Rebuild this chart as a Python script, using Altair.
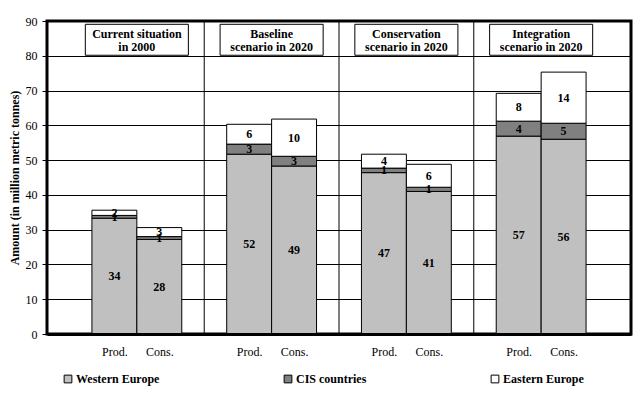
import altair as alt
import pandas as pd

# ---- data ----
scenarios = ["Current  situation\nin 2000", "Baseline\nscenario in 2020",
             "Conservation\nscenario in 2020", "Integration\nscenario in 2020"]
series = ["Western Europe", "CIS countries", "Eastern Europe"]
colors = ["#C0C0C0", "#808080", "#FFFFFF"]
kinds = ["Prod.", "Cons."]

prod_we = [33.3, 51.7, 46.4, 56.9]
prod_cis = [0.8, 2.9, 1.3, 4.3]
prod_ee = [1.5, 5.7, 4.0, 8.0]
cons_we = [27.2, 48.3, 41.0, 56.0]
cons_cis = [0.8, 2.8, 1.2, 4.6]
cons_ee = [2.6, 10.7, 6.6, 14.7]

prod_we_lbl = ["34", "52", "47", "57"]
prod_cis_lbl = ["1", "3", "1", "4"]
prod_ee_lbl = ["2", "6", "4", "8"]
cons_we_lbl = ["28", "49", "41", "56"]
cons_cis_lbl = ["1", "3", "1", "5"]
cons_ee_lbl = ["3", "10", "6", "14"]

y_ticks = list(range(0, 91, 10))

# ---- build tables ----
FONT = "Liberation Serif"
SLOTS_PER_GROUP = 3  # Prod, Cons, gap

values = {
    "Prod.": [prod_we, prod_cis, prod_ee],
    "Cons.": [cons_we, cons_cis, cons_ee],
}
labels = {
    "Prod.": [prod_we_lbl, prod_cis_lbl, prod_ee_lbl],
    "Cons.": [cons_we_lbl, cons_cis_lbl, cons_ee_lbl],
}

rows = []
for g, scen in enumerate(scenarios):
    for k, kind in enumerate(kinds):
        slot = g * SLOTS_PER_GROUP + k
        for s, name in enumerate(series):
            rows.append({
                "slot": slot, "x0": slot - 0.5, "x1": slot + 0.5,
                "kind": kind, "series": name, "order": s,
                "value": values[kind][s][g], "label": labels[kind][s][g],
            })
bars_df = pd.DataFrame(rows)

sep_df = pd.DataFrame({"slot": [g * SLOTS_PER_GROUP + 2 for g in range(len(scenarios) - 1)]})

BOX_HALF = 1.147  # half box width in slot units
box_df = pd.DataFrame({
    "center": [g * SLOTS_PER_GROUP + 0.5 for g in range(len(scenarios))],
    "title": [t.split("\n") for t in scenarios],
})
box_df["bx0"] = box_df["center"] - BOX_HALF
box_df["bx1"] = box_df["center"] + BOX_HALF
box_df["by0"] = 80.15
box_df["by1"] = 89.05
box_df["ty"] = 86.3

tick_slots = sorted(bars_df["slot"].unique().tolist())

xscale = alt.Scale(domain=[-1.5, 11.5], nice=False, zero=False)
yscale = alt.Scale(domain=[0, 90], nice=False)

XAX = alt.Axis(values=tick_slots, title=None, ticks=False,
               labelExpr="datum.value % 3 == 0 ? 'Prod.' : 'Cons.'",
               labelFont=FONT, labelFontSize=12, labelColor="black",
               labelPadding=12, grid=False, domainColor="black",
               domainWidth=3, zindex=1, labelOverlap=False)
YAX = alt.Axis(values=y_ticks, title="Amount (in million metric tonnes)",
               titleFont=FONT, titleFontSize=12, titleFontWeight="bold",
               titleColor="black", titlePadding=4,
               labelFont=FONT, labelFontSize=12, labelColor="black",
               labelPadding=5, tickColor="black", tickSize=5,
               tickWidth=1, domain=False, grid=True,
               gridColor="black", gridWidth=1, gridOpacity=1,
               labelOverlap=False)

base = alt.Chart(bars_df).transform_stack(
    stack="value", groupby=["slot"], as_=["y0", "y1"],
    sort=[alt.SortField("order", order="ascending")],
).transform_calculate(mid="(datum.y0 + datum.y1) / 2")

bars = base.mark_rect(stroke="black", strokeWidth=1).encode(
    x=alt.X("x0:Q", scale=xscale, axis=XAX),
    x2="x1:Q",
    y=alt.Y("y0:Q", scale=yscale, axis=YAX),
    y2="y1:Q",
    fill=alt.Fill("series:N", scale=alt.Scale(domain=series, range=colors),
                  legend=alt.Legend(title=None, orient="none", legendX=15,
                                    legendY=352, direction="horizontal",
                                    columns=3, columnPadding=122,
                                    symbolType="square", symbolSize=60,
                                    symbolStrokeColor="black",
                                    symbolStrokeWidth=1, symbolOpacity=1,
                                    labelFont=FONT, labelFontSize=12,
                                    labelFontWeight="bold", labelColor="black",
                                    labelOffset=2, labelLimit=200)),
    order=alt.Order("order:Q"),
)

bar_text = base.mark_text(font=FONT, fontSize=12, fontWeight="bold",
                          color="black", baseline="middle").encode(
    x=alt.X("slot:Q", scale=xscale, axis=XAX),
    y=alt.Y("mid:Q", scale=yscale, axis=YAX),
    text="label:N",
)

seps = alt.Chart(sep_df).mark_rule(color="black", strokeWidth=1).encode(
    x=alt.X("slot:Q", scale=xscale, axis=XAX),
    y=alt.value(0),
    y2=alt.value(313),
)

boxes = alt.Chart(box_df).mark_rect(fill="white", stroke="black",
                                    strokeWidth=1).encode(
    x=alt.X("bx0:Q", scale=xscale, axis=XAX), x2="bx1:Q",
    y=alt.Y("by0:Q", scale=yscale, axis=YAX), y2="by1:Q",
)

box_text = alt.Chart(box_df).mark_text(
    font=FONT, fontSize=12, fontWeight="bold", color="black",
    baseline="middle", lineHeight=13).encode(
    x=alt.X("center:Q", scale=xscale, axis=XAX),
    y=alt.Y("ty:Q", scale=yscale, axis=YAX),
    text="title",
)

chart = alt.layer(bars, seps, boxes, box_text, bar_text).properties(
    width=584, height=313,
    autosize=alt.AutoSizeParams(type="none"),
    padding={"left": 39, "top": 13, "right": 3, "bottom": 55},
    background="white",
).configure_view(stroke="black", strokeWidth=3)

chart.save("out.html", embed_options={"renderer": "svg", "actions": False})
